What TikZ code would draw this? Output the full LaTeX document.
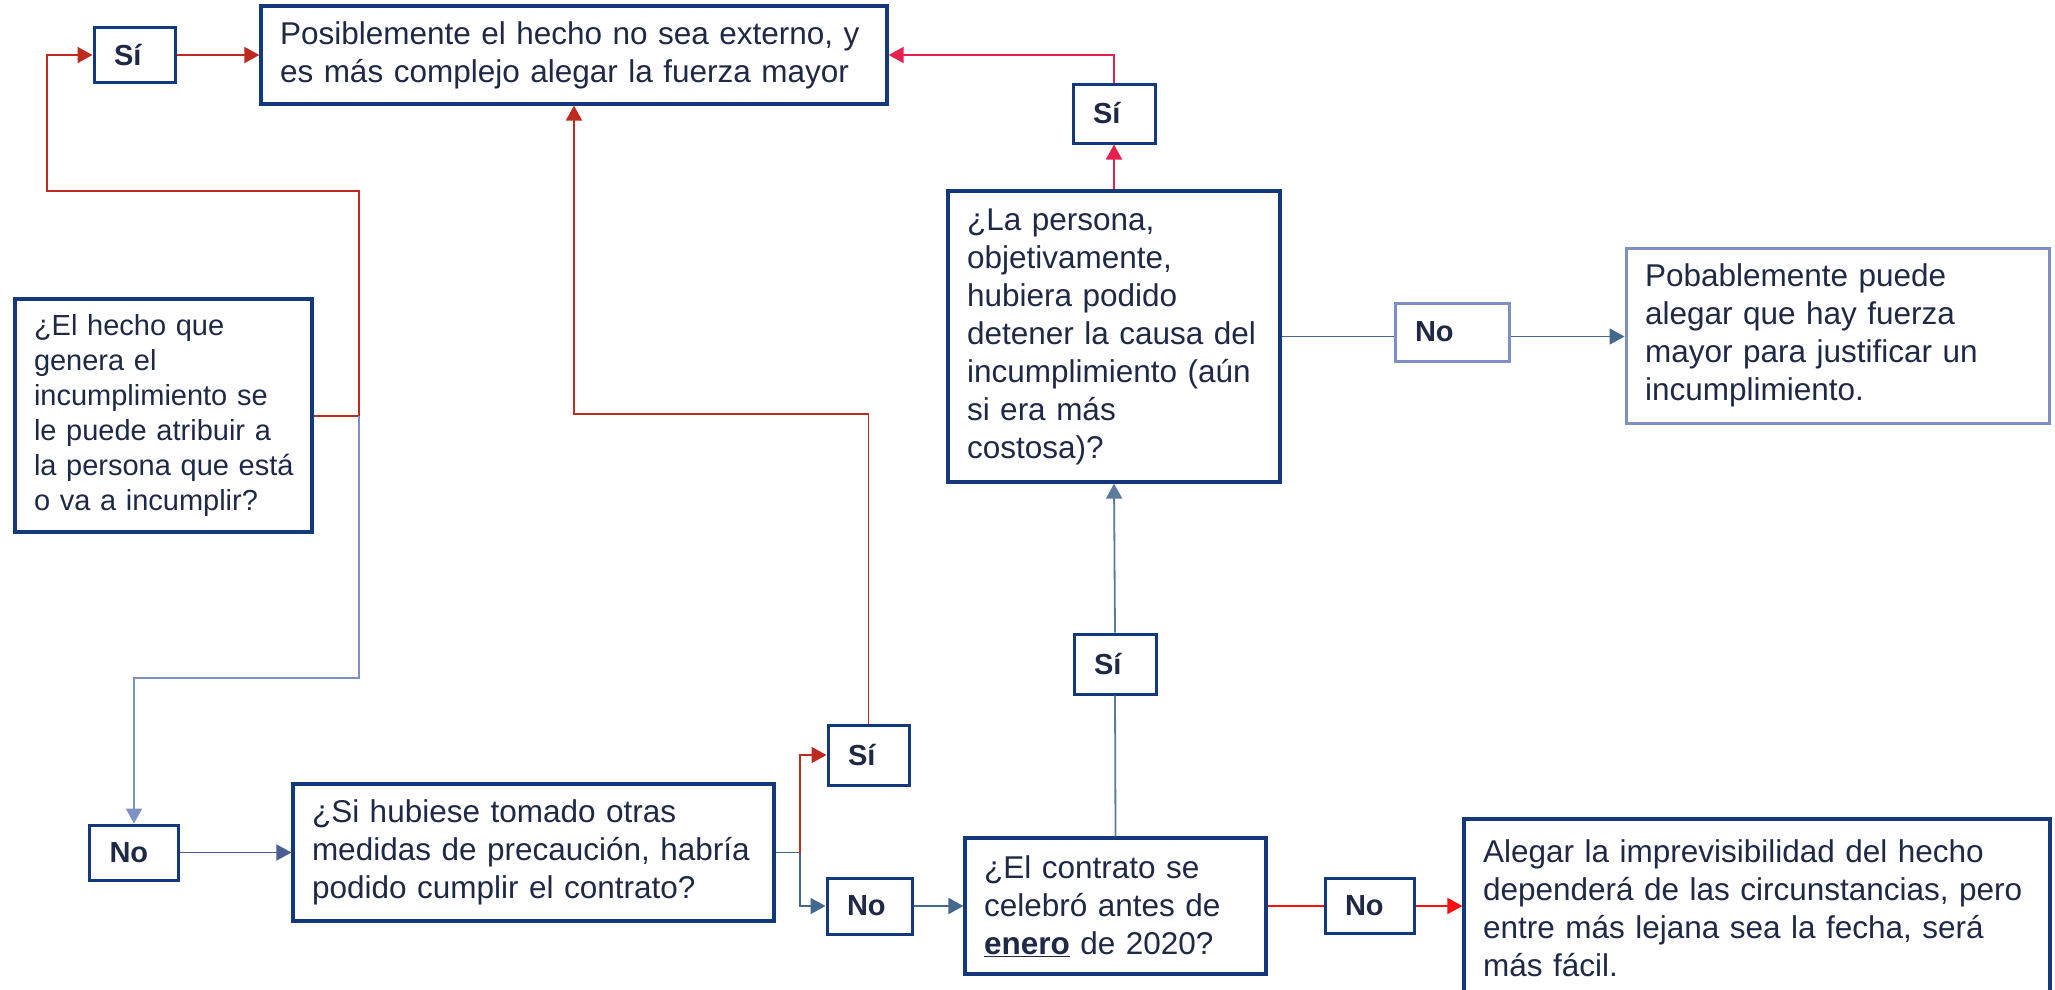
\documentclass[tikz,border=0pt]{standalone}
\usepackage{fontspec}
\setmainfont{Liberation Sans}
\usetikzlibrary{arrows.meta}
\definecolor{navy}{HTML}{14397A}
\definecolor{lightnavy}{HTML}{7E8FC6}
\definecolor{txt}{HTML}{1F2945}
\definecolor{dred}{HTML}{BE2A1E}
\definecolor{pinkred}{HTML}{E5214F}
\definecolor{bred}{HTML}{FF1010}
\definecolor{steel}{HTML}{44688E}
\definecolor{steelb}{HTML}{5C7A9E}
\definecolor{lblue}{HTML}{7D90C8}
\definecolor{nblue}{HTML}{4A5E94}
\begin{document}
\begin{tikzpicture}[x=1pt,y=-1pt,
  box/.style={draw=navy, line width=3.2pt, rectangle, inner xsep=12pt, inner ysep=0pt,
    align=left, text=txt, font=\fontsize{31.5}{38}\selectfont,
    execute at begin node={\leftskip=7pt\relax}},
  lab/.style={draw=navy, line width=3pt, rectangle, inner xsep=20pt, inner ysep=0pt,
    align=left, text=txt, font=\fontsize{29}{35}\selectfont\bfseries},
  con/.style={line width=1.8pt},
  arr/.style={con, -{Triangle[length=15pt,width=16pt]}},
]
\useasboundingbox (0,0) rectangle (2055,989);

% nodes
\node[box, text width=602pt, minimum height=98pt] (P) at (574,55)
  {Posiblemente el hecho no sea externo, y\\es más complejo alegar la fuerza mayor};
\node[lab, text width=41pt, minimum height=55pt] (siA) at (134.5,55) {Sí};
\node[lab, text width=42pt, minimum height=59pt] (siB) at (1114,113.5) {Sí};
\node[box, text width=308pt, minimum height=291pt] (LP) at (1114,336.5)
  {¿La persona,\\objetivamente,\\hubiera podido\\detener la causa del\\incumplimiento (aún\\si era más\\costosa)?};
\node[lab, draw=lightnavy, text width=74pt, minimum height=58pt] (noC) at (1452,332) {No};
\node[box, draw=lightnavy, line width=3pt, text width=399pt, minimum height=175pt] (Pob) at (1837.5,335.5)
  {Pobablemente puede\\alegar que hay fuerza\\mayor para justificar un\\incumplimiento.};
\node[box, font=\fontsize{29}{35}\selectfont, text width=273pt, minimum height=233pt] (H) at (163.5,415.5)
  {¿El hecho que\\genera el\\incumplimiento se\\le puede atribuir a\\la persona que está\\o va a incumplir?};
\node[lab, text width=42pt, minimum height=60pt] (siD) at (1115,664) {Sí};
\node[lab, text width=41pt, minimum height=60pt] (siE) at (868.5,755) {Sí};
\node[lab, text width=49pt, minimum height=55pt] (noF) at (134,852.5) {No};
\node[box, text width=457pt, minimum height=137pt] (S) at (533.5,852.5)
  {¿Si hubiese tomado otras\\medidas de precaución, habría\\podido cumplir el contrato?};
\node[lab, text width=45pt, minimum height=56pt] (noG) at (869.5,906) {No};
\node[box, text width=277pt, minimum height=136pt] (C) at (1115.5,906)
  {¿El contrato se\\celebró antes de\\\underline{\textbf{enero}} de 2020?};
\node[lab, text width=49pt, minimum height=55pt] (noH) at (1369.5,906) {No};
\node[box, text width=562pt, minimum height=178pt] (A) at (1757,908)
  {Alegar la imprevisibilidad del hecho\\dependerá de las circunstancias, pero\\entre más lejana sea la fecha, será\\más fácil.};

% connectors
\coordinate (J1) at (359,416);
\coordinate (J2) at (800,852.5);
\coordinate (K) at (574,414);
\draw[arr, dred] (H.east |- J1) -- (J1) -- (359,191) -- (47,191) -- (47,55) -- (siA.west);
\draw[arr, dred] (siA.east) -- (P.west |- siA.east);
\draw[arr, lblue] (J1) -- (359,678) -| (noF.north);
\draw[arr, nblue] (noF.east) -- (S.west |- noF.east);
\draw[con, steel] (S.east) -- (J2);
\draw[arr, dred] (J2) |- (siE.west);
\draw[arr, steel] (J2) |- (noG.west);
\draw[arr, steel] (noG.east) -- (C.west |- noG.east);
\draw[arr, dred] (siE.north) |- (K) -- (P.south);
\draw[con, steelb] (C.north) -- (siD.south);
\draw[arr, steelb] (siD.north) -- (LP.south);
\draw[arr, pinkred] (LP.north) -- (siB.south);
\draw[arr, pinkred] (siB.north) |- (P.east);
\draw[con, steel] (LP.east) -- (LP.east -| noC.west);
\draw[arr, steel] (noC.east |- LP.east) -- (Pob.west |- LP.east);
\draw[con, bred] (C.east) -- (noH.west);
\draw[arr, bred] (noH.east) -- (A.west |- noH.east);
\end{tikzpicture}
\end{document}
